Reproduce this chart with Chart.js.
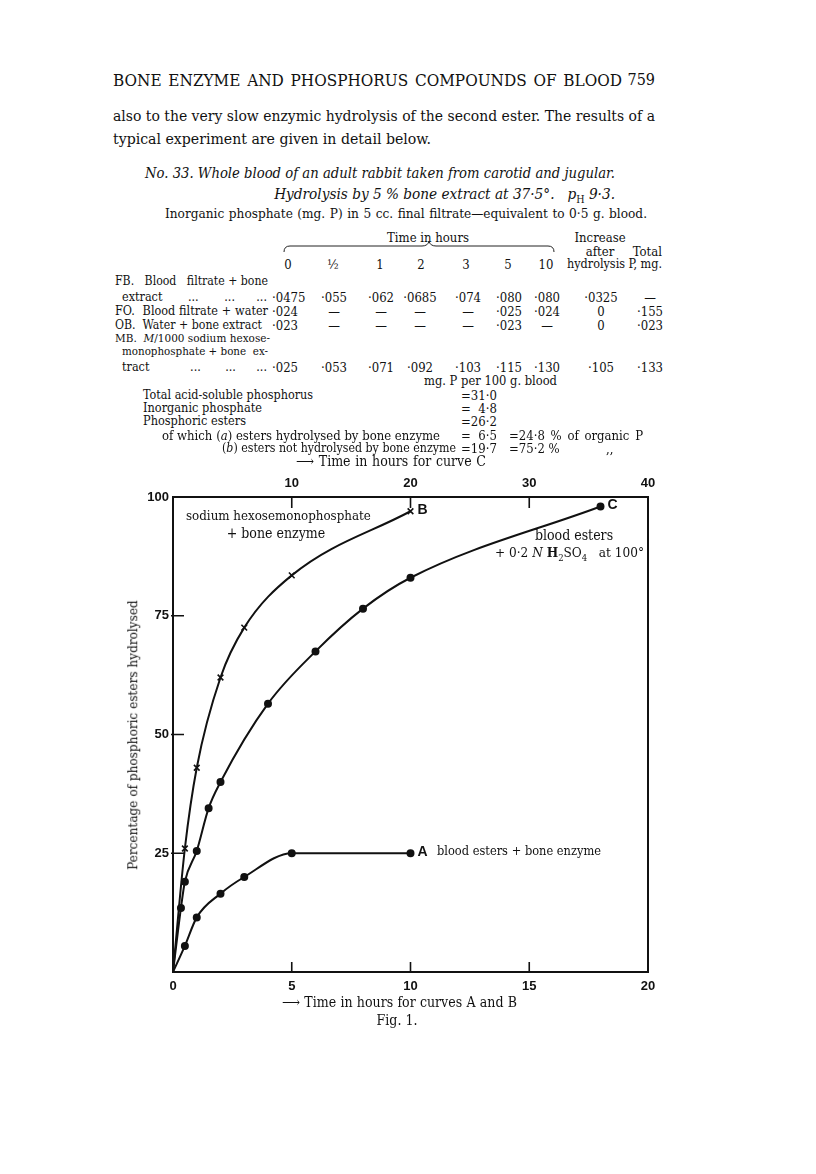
<!DOCTYPE html>
<html>
<head>
<meta charset="utf-8">
<script src="https://cdn.jsdelivr.net/npm/chart.js@4.4.1/dist/chart.umd.min.js"></script>
<style>
  html, body { margin: 0; padding: 0; background: #fff; }
  body { width: 816px; height: 1174px; position: relative; overflow: hidden;
         font-family: "DejaVu Serif", serif; font-stretch: semi-condensed; color: #111; }
  .t { position: absolute; white-space: nowrap; line-height: 1; }
  .t sub { font-size: 70%; vertical-align: -0.35em; line-height: 0; }
  #wrap { position: absolute; left: 100px; top: 440px; width: 600px; height: 560px; }
</style>
</head>
<body>
<div id="wrap"><canvas id="fig" width="600" height="560"></canvas></div>
<script>
// Curve data (percentage of phosphoric esters hydrolysed)
var hoursAB = [0, 0.5, 1, 2, 3, 5, 10];          // bottom axis, curves A and B
var curveA = [0, 5.5, 11.5, 16.5, 20, 25, 25];   // blood esters + bone enzyme
var curveB = [0, 26, 43, 62, 72.5, 83.5, 97];    // sodium hexosemonophosphate + bone enzyme
var hoursC = [0, 0.67, 1, 2, 3, 4, 8, 12, 16, 20, 36];   // top axis, curve C
var curveC = [0, 13.5, 19, 25.5, 34.5, 40, 56.5, 67.5, 76.5, 83, 98];
var ticksAB = [0, 5, 10, 15, 20];
var ticksC = [10, 20, 30, 40];
var ticksPct = [25, 50, 75, 100];

// Table on the page
var timeCols = ['0', '&frac12;', '1', '2', '3', '5', '10'];
var rowFB = ['&middot;0475', '&middot;055', '&middot;062', '&middot;0685', '&middot;074', '&middot;080', '&middot;080', '&middot;0325', '&mdash;'];
var rowFO = ['&middot;024', '&mdash;', '&mdash;', '&mdash;', '&mdash;', '&middot;025', '&middot;024', '0', '&middot;155'];
var rowOB = ['&middot;023', '&mdash;', '&mdash;', '&mdash;', '&mdash;', '&middot;023', '&mdash;', '0', '&middot;023'];
var rowMB = ['&middot;025', '&middot;053', '&middot;071', '&middot;092', '&middot;103', '&middot;115', '&middot;130', '&middot;105', '&middot;133'];

var page = document.body;

function put(html, x, y, o) {
  o = o || {};
  var size = o.size || 13;
  var el = document.createElement('div');
  el.className = 't';
  el.innerHTML = html;
  el.style.fontSize = size + 'px';
  if (o.italic) el.style.fontStyle = 'italic';
  page.appendChild(el);
  if (o.width) {
    var w = el.getBoundingClientRect().width;
    if (o.mode === 'space') {
      var n = (el.textContent.match(/[ \u00a0]/g) || []).length;
      if (w > o.width) {
        el.style.fontSize = (size * o.width / w) + 'px';
        w = el.getBoundingClientRect().width;
      }
      if (n) el.style.wordSpacing = ((o.width - w) / n) + 'px';
    } else {
      el.style.fontSize = (size * o.width / w) + 'px';
    }
  }
  var tx = o.align === 'center' ? '-50%' : (o.align === 'right' ? '-100%' : '0');
  el.style.left = x + 'px';
  el.style.top = y + 'px';
  el.style.transform = 'translate(' + tx + ',-50%)' + (o.rotate ? ' rotate(-90deg)' : '');
  return el;
}

// Page header and text
put('BONE ENZYME AND PHOSPHORUS COMPOUNDS OF BLOOD', 113, 80, {size: 17, width: 509, mode: 'space'});
put('759', 655, 80, {size: 16, align: 'right'});
put('also to the very slow enzymic hydrolysis of the second ester.  The results of a', 113, 117, {size: 16, width: 542, mode: 'space'});
put('typical experiment are given in detail below.', 113, 139, {size: 15.6, width: 318});
put('No. 33.  Whole blood of an adult rabbit taken from carotid and jugular.', 145, 173, {size: 16, italic: true, width: 470, mode: 'space'});
put('Hydrolysis by 5 % bone extract at 37&middot;5&deg;.&nbsp;&nbsp; <i>p</i><sub style="font-style:normal">H</sub> 9&middot;3.', 615, 195, {size: 15.2, italic: true, align: 'right'});
put('Inorganic phosphate (mg. P) in 5 cc. final filtrate&mdash;equivalent to 0&middot;5 g. blood.', 165, 214, {size: 13.5, width: 482, mode: 'space'});

// Table headings
var ts = 13;
put('Time in hours', 428, 237, {size: ts, align: 'center'});
put('Increase', 600, 237, {size: ts, align: 'center'});
put('after', 600, 251, {size: ts, align: 'center'});
put('Total', 662, 251, {size: ts, align: 'right'});
var colX = [288, 333, 380, 421, 466, 508, 546];
timeCols.forEach(function(c, i) { put(c, colX[i], 264, {size: ts, align: 'center'}); });
put('hydrolysis', 625, 264, {size: 12.5, align: 'right'});
put('P, mg.', 662, 264, {size: 12.5, align: 'right'});

var brace = document.createElementNS('http://www.w3.org/2000/svg', 'svg');
brace.setAttribute('width', '816');
brace.setAttribute('height', '20');
brace.style.position = 'absolute';
brace.style.left = '0px';
brace.style.top = '238px';
brace.innerHTML = '<path d="M284,14 Q284,8 290,8 L422,8 Q428,8 429,3 Q430,8 436,8 L548,8 Q554,8 554,14" fill="none" stroke="#222" stroke-width="1"/>';
page.appendChild(brace);

// Table rows
var ls = 12.5;
put('FB.&nbsp;&nbsp; Blood&nbsp;&nbsp; filtrate + bone', 115, 281, {size: ls, width: 153, mode: 'space'});
put('extract&nbsp;&nbsp;&nbsp;&nbsp;&nbsp; ...&nbsp;&nbsp;&nbsp;&nbsp;&nbsp; ...&nbsp;&nbsp;&nbsp;&nbsp; ...', 122, 297, {size: ls, width: 145, mode: 'space'});
put('FO.&nbsp; Blood filtrate + water', 115, 311, {size: ls, width: 153, mode: 'space'});
put('OB.&nbsp; Water + bone extract', 115, 325, {size: ls, width: 147, mode: 'space'});
put('MB.&nbsp; <i>M</i>/1000 sodium hexose-', 115, 339, {size: ls, width: 155, mode: 'space'});
put('monophosphate + bone&nbsp; ex-', 122, 352, {size: ls, width: 146, mode: 'space'});
put('tract&nbsp;&nbsp;&nbsp;&nbsp;&nbsp;&nbsp;&nbsp;&nbsp;&nbsp; ...&nbsp;&nbsp;&nbsp;&nbsp;&nbsp; ...&nbsp;&nbsp;&nbsp;&nbsp; ...', 122, 367, {size: ls, width: 145, mode: 'space'});
var valX = [288, 334, 381, 420, 468, 509, 547, 601, 650];
[[rowFB, 297], [rowFO, 311], [rowOB, 325], [rowMB, 367]].forEach(function(r) {
  r[0].forEach(function(v, i) {
    if (i === 0) put(v, 272, r[1], {size: ts});
    else put(v, valX[i], r[1], {size: ts, align: 'center'});
  });
});

// Summary block
put('mg. P per 100 g. blood', 424, 381, {size: ts, width: 133, mode: 'space'});
put('Total acid-soluble phosphorus', 143, 395, {size: ts, width: 170, mode: 'space'});
put('=31&middot;0', 461, 395, {size: ts});
put('Inorganic phosphate', 143, 408, {size: ts, width: 119, mode: 'space'});
put('=&nbsp; 4&middot;8', 461, 408, {size: ts});
put('Phosphoric esters', 143, 421, {size: ts, width: 103, mode: 'space'});
put('=26&middot;2', 461, 421, {size: ts});
put('of which (<i>a</i>) esters hydrolysed by bone enzyme', 162, 435, {size: ts, width: 278, mode: 'space'});
put('=&nbsp; 6&middot;5', 461, 435, {size: ts});
put('=24&middot;8 % of organic P', 509, 435, {size: ts, width: 134, mode: 'space'});
put('(<i>b</i>) esters not hydrolysed by bone enzyme', 222, 448, {size: ts, width: 234, mode: 'space'});
put('=19&middot;7', 461, 448, {size: ts});
put('=75&middot;2 %', 509, 448, {size: ts});
put(',,', 606, 448, {size: ts});
put('&#x27F6; Time in hours for curve C', 296, 461, {size: 14, width: 190, mode: 'space'});

// Figure texts
put('sodium hexosemonophosphate', 186, 516, {size: 14, width: 185});
put('+ bone enzyme', 276, 533, {size: 14, align: 'center'});
put('blood esters', 574, 535, {size: 14, align: 'center'});
put('+ 0&middot;2 <i>N</i> <b>H</b><sub>2</sub>SO<sub>4</sub>&nbsp;&nbsp; at 100&deg;', 495, 553, {size: 14, width: 149, mode: 'space'});
put('blood esters + bone enzyme', 437, 851, {size: 14, width: 164, mode: 'space'});
put('Percentage of phosphoric esters hydrolysed', 133, 735, {size: 14, width: 270, rotate: true, align: 'center'});
put('&#x27F6; Time in hours for curves A and B', 282, 1002, {size: 14, width: 235, mode: 'space'});
put('Fig. 1.', 397, 1020, {size: 14, align: 'center'});

function pairs(xs, ys) {
  return xs.map(function(x, i) { return {x: x, y: ys[i]}; });
}

var tickFont = {family: '"Liberation Sans", Arial, sans-serif', size: 13, weight: 'bold'};

// frame, inward tick marks and the curve letters
var framePlugin = {
  id: 'frame',
  afterDatasetsDraw: function(chart) {
    var ctx = chart.ctx;
    var a = chart.chartArea;
    var sx = chart.scales.x, st = chart.scales.xTop, sy = chart.scales.y;
    ctx.save();
    ctx.strokeStyle = '#111';
    ctx.lineWidth = 2;
    ctx.strokeRect(a.left, a.top, a.right - a.left, a.bottom - a.top);
    ctx.lineWidth = 1.6;
    ctx.beginPath();
    sx.ticks.forEach(function(t) {
      if (t.value > sx.min && t.value < sx.max) {
        var px = sx.getPixelForValue(t.value);
        ctx.moveTo(px, a.bottom); ctx.lineTo(px, a.bottom - 10);
      }
    });
    st.ticks.forEach(function(t) {
      if (t.value > st.min && t.value < st.max) {
        var px = st.getPixelForValue(t.value);
        ctx.moveTo(px, a.top); ctx.lineTo(px, a.top + 11);
      }
    });
    sy.ticks.forEach(function(t) {
      if (t.value > sy.min && t.value < sy.max) {
        var py = sy.getPixelForValue(t.value);
        ctx.moveTo(a.left - 2, py); ctx.lineTo(a.left + 11, py);
      }
    });
    ctx.stroke();
    ctx.fillStyle = '#111';
    ctx.font = 'bold 14px "Liberation Sans", Arial, sans-serif';
    ctx.textBaseline = 'middle';
    chart.data.datasets.forEach(function(ds, i) {
      var meta = chart.getDatasetMeta(i);
      var last = meta.data[meta.data.length - 1];
      ctx.fillText(ds.label, last.x + 7, last.y - 1);
    });
    ctx.restore();
  }
};

function dotRadius(ctx) { return ctx.dataIndex === 0 ? 0 : 3; }
function crossRadius(ctx) { return ctx.dataIndex === 0 ? 0 : 4; }

new Chart(document.getElementById('fig'), {
  type: 'line',
  data: {
    datasets: [{
      label: 'A',
      data: pairs(hoursAB, curveA),
      xAxisID: 'x',
      borderColor: '#111',
      borderWidth: 2,
      pointRadius: dotRadius,
      pointBackgroundColor: '#111',
      pointBorderColor: '#111',
      cubicInterpolationMode: 'monotone',
      clip: false
    }, {
      label: 'B',
      data: pairs(hoursAB, curveB),
      xAxisID: 'x',
      borderColor: '#111',
      borderWidth: 2,
      pointStyle: 'crossRot',
      pointRadius: crossRadius,
      pointBorderWidth: 1.6,
      pointBorderColor: '#111',
      cubicInterpolationMode: 'monotone',
      clip: false
    }, {
      label: 'C',
      data: pairs(hoursC, curveC),
      xAxisID: 'xTop',
      borderColor: '#111',
      borderWidth: 2,
      pointRadius: dotRadius,
      pointBackgroundColor: '#111',
      pointBorderColor: '#111',
      cubicInterpolationMode: 'monotone',
      clip: false
    }]
  },
  options: {
    responsive: false,
    animation: false,
    layout: {padding: {left: 0, right: 52, top: 0, bottom: 0}},
    plugins: {legend: {display: false}, tooltip: {enabled: false}},
    scales: {
      x: {
        type: 'linear', position: 'bottom', min: 0, max: 20,
        afterBuildTicks: function(s) { s.ticks = ticksAB.map(function(v) { return {value: v}; }); },
        afterFit: function(s) { s.height = 28; },
        grid: {display: false, drawTicks: false},
        border: {display: false},
        ticks: {padding: 7, font: tickFont, color: '#111', maxRotation: 0, autoSkip: false}
      },
      xTop: {
        type: 'linear', position: 'top', min: 0, max: 40,
        afterBuildTicks: function(s) { s.ticks = ticksC.map(function(v) { return {value: v}; }); },
        afterFit: function(s) { s.height = 57; },
        grid: {display: false, drawTicks: false},
        border: {display: false},
        ticks: {padding: 6, font: tickFont, color: '#111', maxRotation: 0, autoSkip: false}
      },
      y: {
        type: 'linear', position: 'left', min: 0, max: 100,
        afterBuildTicks: function(s) { s.ticks = ticksPct.map(function(v) { return {value: v}; }); },
        afterFit: function(s) { s.width = 73; },
        grid: {display: false, drawTicks: false},
        border: {display: false},
        ticks: {padding: 4, font: tickFont, color: '#111', autoSkip: false}
      }
    }
  },
  plugins: [framePlugin]
});
</script>
</body>
</html>
